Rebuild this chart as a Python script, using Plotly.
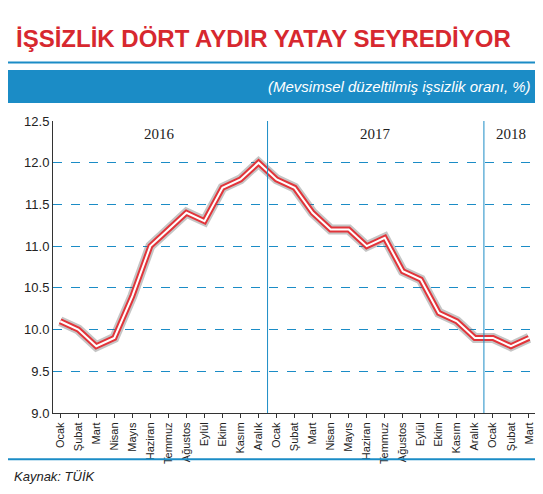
import plotly.graph_objects as go

months = ["Ocak", "Şubat", "Mart", "Nisan", "Mayıs", "Haziran", "Temmuz", "Ağustos",
          "Eylül", "Ekim", "Kasım", "Aralık"]
labels = months + months + months[:3]
rate = [10.1, 10.0, 9.8, 9.9, 10.4, 11.0, 11.2, 11.4, 11.3, 11.7, 11.8, 12.0,
        11.8, 11.7, 11.4, 11.2, 11.2, 11.0, 11.1, 10.7, 10.6, 10.2, 10.1, 9.9,
        9.9, 9.8, 9.9]
years = ["2016", "2017", "2018"]
year_pos = [5.5, 17.5, 25]

x = list(range(len(rate)))
blue = "#1b8cc6"
red = "#e2343a"

fig = go.Figure()
fig.add_trace(go.Scatter(x=x, y=rate, mode="lines", line=dict(color="rgba(90,90,90,0.35)", width=10)))
fig.add_trace(go.Scatter(x=x, y=rate, mode="lines", line=dict(color=red, width=6)))
fig.add_trace(go.Scatter(x=x, y=rate, mode="lines", line=dict(color="white", width=2)))

for xv in [11.5, 23.5]:
    fig.add_shape(type="line", x0=xv, x1=xv, y0=9.0, y1=12.5, line=dict(color=blue, width=1))
for yr, xp in zip(years, year_pos):
    fig.add_annotation(x=xp, y=12.35, text=yr, showarrow=False,
                       font=dict(family="Liberation Serif", size=15, color="#222"))

# header
fig.add_shape(type="rect", xref="paper", yref="paper", x0=-0.093, x1=1.0, y0=1.062, y1=1.175,
              fillcolor=blue, line_width=0)
fig.add_shape(type="line", xref="paper", yref="paper", x0=-0.093, x1=1.0, y0=1.2, y1=1.2,
              line=dict(color=blue, width=2))
fig.add_annotation(xref="paper", yref="paper", x=-0.08, y=1.284, xanchor="left", yanchor="middle",
                   showarrow=False, text="<b>İŞSİZLİK DÖRT AYDIR YATAY SEYREDİYOR</b>",
                   font=dict(family="Liberation Sans Narrow, Liberation Sans", size=24, color="#d7282f"))
fig.add_annotation(xref="paper", yref="paper", x=0.99, y=1.118, xanchor="right", yanchor="middle",
                   showarrow=False, text="<i>(Mevsimsel düzeltilmiş işsizlik oranı, %)</i>",
                   font=dict(family="Liberation Sans", size=15, color="white"))
# footer
fig.add_shape(type="line", xref="paper", yref="paper", x0=-0.093, x1=1.0, y0=-0.158, y1=-0.158,
              line=dict(color=blue, width=2))
fig.add_annotation(xref="paper", yref="paper", x=-0.085, y=-0.216, xanchor="left", yanchor="middle",
                   showarrow=False, text="<i>Kaynak: TÜİK</i>",
                   font=dict(family="Liberation Sans", size=13, color="#222"))

fig.update_layout(
    width=543, height=494, showlegend=False,
    margin=dict(l=45, r=13, t=113, b=89, autoexpand=False),
    paper_bgcolor="white", plot_bgcolor="white",
    xaxis=dict(range=[-0.4, 26.5], tickmode="array", tickvals=x, ticktext=labels, tickangle=-90,
               automargin=False, showgrid=False, zeroline=False, showline=True, linecolor="#333",
               ticks="outside", ticklen=4, tickcolor="#333",
               tickfont=dict(family="Liberation Sans Narrow, Liberation Sans", size=11, color="#222")),
    yaxis=dict(range=[9.0, 12.5], dtick=0.5, tickformat=".1f", showgrid=True, gridcolor=blue,
               automargin=False, griddash="dash", zeroline=False, showline=True, linecolor="#333",
               tickfont=dict(family="Liberation Sans Narrow, Liberation Sans", size=13, color="#222")),
)
fig.write_html("out.html")
